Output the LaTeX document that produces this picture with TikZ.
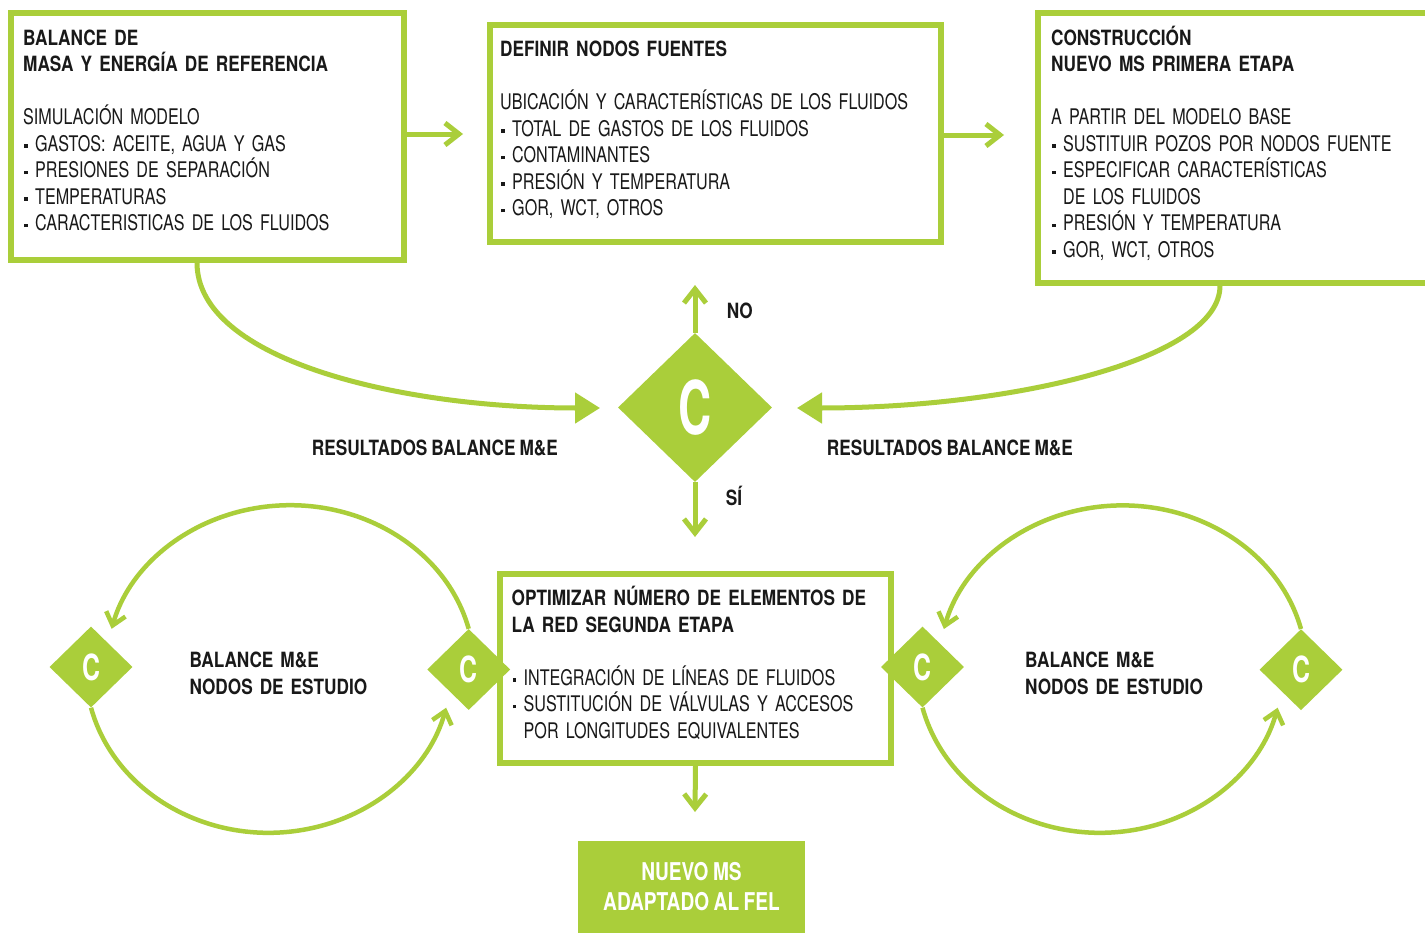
\documentclass[tikz,border=0pt]{standalone}
\usepackage{fontspec}
\usetikzlibrary{arrows.meta,shapes.geometric}
\newfontfamily\bodyf{TeX Gyre Heros}[FakeStretch=0.75,WordSpace=0.85]
\newfontfamily\headf{TeX Gyre Heros}[FakeStretch=0.82,WordSpace=0.85]
\newfontfamily\boxf{TeX Gyre Heros}[FakeStretch=0.78,WordSpace=0.85]
\newfontfamily\bigcf{TeX Gyre Heros}[FakeStretch=0.62]
\newfontfamily\smcf{TeX Gyre Heros}[FakeStretch=0.69]
\definecolor{fgreen}{RGB}{170,206,58}
\definecolor{ink}{RGB}{25,25,25}
\setlength\parindent{0pt}
\newcommand\hdr{\headf\bfseries\fontsize{21}{26.5}\selectfont}
\newcommand\bdy{\bodyf\fontsize{21.5}{26.5}\selectfont}
\newcommand\bul{\makebox[12pt][l]{\hspace{1pt}\rule[3.5pt]{3.5pt}{3.5pt}}}
\newcommand\ind{\hspace*{12pt}}
\newcommand\fst{\rule{0pt}{20pt}}
\begin{document}
\begin{tikzpicture}[x=1pt,y=-1pt,
  box/.style={draw=fgreen, line width=5.5pt, inner sep=0pt},
  txt/.style={anchor=north west, inner sep=0pt, text width=440pt, align=left, font=\bdy, text=ink},
  lbl/.style={inner sep=0pt, font=\hdr, text=ink},
  bigd/.style={diamond, fill=fgreen, inner sep=0pt, minimum width=154pt, minimum height=149pt, text=white, font=\bigcf\bfseries\fontsize{74}{74}\selectfont},
  smd/.style={diamond, fill=fgreen, inner sep=0pt, minimum width=83pt, minimum height=81pt, text=white, font=\smcf\bfseries\fontsize{36}{36}\selectfont},
  chev/.style={draw=fgreen, line width=5pt, -{Straight Barb[length=14pt,width=22pt]}},
  tri/.style={draw=fgreen, line width=5pt, -{Triangle[length=25pt,width=30pt]}},
  loopa/.style={draw=fgreen, line width=4.5pt, -{Straight Barb[length=12pt,width=20pt]}}
]
\useasboundingbox[fill=white] (0,0) rectangle (1425,934);

% boxes
\node[box, minimum width=393pt, minimum height=247pt] (b1) at (207.5,136.5) {};
\node[box, minimum width=451pt, minimum height=217pt] (b2) at (715.5,133.5) {};
\node[box, minimum width=402pt, minimum height=270pt] (b3) at (1239,148) {};
\node[box, minimum width=391pt, minimum height=189pt] (b4) at (695.5,668.5) {};
\node[fill=fgreen, inner sep=0pt, minimum width=227pt, minimum height=92pt, align=center, text=white,
      font=\boxf\bfseries\fontsize{24.5}{30}\selectfont] (b5) at (691.5,887) {NUEVO MS\\ADAPTADO AL FEL};

% box texts
\node[txt] (t1) at (23,25) {\fst{\hdr BALANCE DE}\\{\hdr MASA Y ENERGÍA DE REFERENCIA}\\[26.5pt]
SIMULACIÓN MODELO\\\bul GASTOS: ACEITE, AGUA Y GAS\\\bul PRESIONES DE SEPARACIÓN\\\bul TEMPERATURAS\\\bul CARACTERISTICAS DE LOS FLUIDOS};
\node[txt] (t2) at (500,36.7) {\fst{\hdr DEFINIR NODOS FUENTES}\\[26.5pt]
UBICACIÓN Y CARACTERÍSTICAS DE LOS FLUIDOS\\\bul TOTAL DE GASTOS DE LOS FLUIDOS\\\bul CONTAMINANTES\\\bul PRESIÓN Y TEMPERATURA\\\bul GOR, WCT, OTROS};
\node[txt] (t3) at (1051,25) {\fst{\hdr CONSTRUCCIÓN}\\{\hdr NUEVO MS PRIMERA ETAPA}\\[26.5pt]
A PARTIR DEL MODELO BASE\\\bul SUSTITUIR POZOS POR NODOS FUENTE\\\bul ESPECIFICAR CARACTERÍSTICAS\\\ind DE LOS FLUIDOS\\\bul PRESIÓN Y TEMPERATURA\\\bul GOR, WCT, OTROS};
\node[txt] (t4) at (511.5,585.7) {\fst{\hdr OPTIMIZAR NÚMERO DE ELEMENTOS DE}\\{\hdr LA RED SEGUNDA ETAPA}\\[26.5pt]
\bul INTEGRACIÓN DE LÍNEAS DE FLUIDOS\\\bul SUSTITUCIÓN DE VÁLVULAS Y ACCESOS\\\ind POR LONGITUDES EQUIVALENTES};

% central decision
\node[bigd] (dC) at (695,407.5) {C};
\coordinate (upT) at (695,285);
\coordinate (dnT) at (695,537);
\draw[chev] (dC.north) -- (upT);
\draw[chev] (dC.south) -- (dnT);
\node[lbl, anchor=base west] (no) at (726.7,318.3) {NO};
\node[lbl, anchor=base west] (si) at (725.7,505) {SÍ};

% horizontal arrows between top boxes
\coordinate (r1) at (463,134);
\draw[chev] (b1.east |- r1) -- (r1);
\coordinate (r2) at (1004,135);
\draw[chev] (b2.east |- r2) -- (r2);

% curved arrows to decision
\coordinate (cl) at (600,408);
\draw[tri] ([xshift=-10.5pt]b1.south) .. controls (197,360) and (400,408) .. (cl);
\coordinate (cr) at (797,408);
\draw[tri] ([xshift=-19pt]b3.south) .. controls (1220,360) and (1010,408) .. (cr);
\node[lbl, anchor=base west] (resL) at (311.7,455) {RESULTADOS BALANCE M\&E};
\node[lbl, anchor=base west] (resR) at (826.7,455) {RESULTADOS BALANCE M\&E};

% bottom arrow
\coordinate (b4T) at (695,812);
\draw[chev] (b4.south) -- (b4T);

% loops
\node[smd] (sL1) at (91,667) {C};
\node[smd] (sL2) at (468.7,669.5) {C};
\node[smd] (sR1) at (922.5,667) {C};
\node[smd] (sR2) at (1301,669.7) {C};
\draw[loopa] (sL2.north) arc[start angle=14, end angle=166, x radius=184pt, y radius=163pt];
\draw[loopa] (sL1.south) arc[start angle=194, end angle=346, x radius=183pt, y radius=165pt];
\draw[loopa] (sR2.north) arc[start angle=14, end angle=166, x radius=184pt, y radius=163pt];
\draw[loopa] (sR1.south) arc[start angle=194, end angle=346, x radius=183pt, y radius=165pt];
\node[txt, font=\hdr] (lL) at (189.3,647.7) {\fst BALANCE M\&E\\NODOS DE ESTUDIO};
\node[txt, font=\hdr] (lR) at (1025,647.7) {\fst BALANCE M\&E\\NODOS DE ESTUDIO};
\end{tikzpicture}
\end{document}
